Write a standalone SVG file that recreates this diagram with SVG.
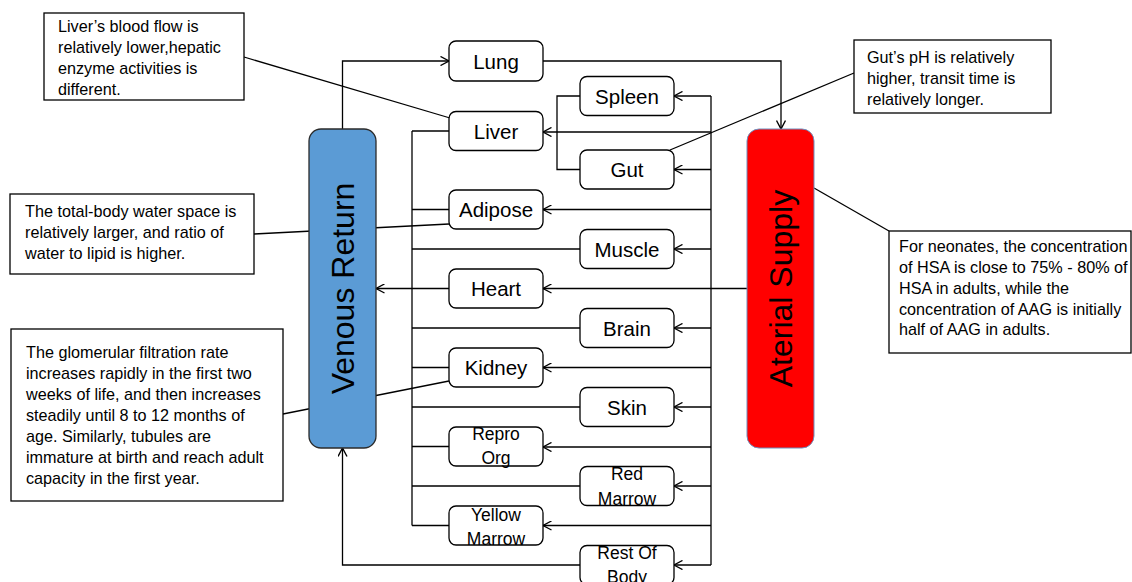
<svg xmlns="http://www.w3.org/2000/svg" width="1132" height="582" viewBox="0 0 1132 582">
<style>
.ln{fill:none;stroke:#000;stroke-width:1.3}
.ar{fill:none;stroke:#000;stroke-width:1.3;marker-end:url(#arr)}
.nd{fill:#fff;stroke:#000;stroke-width:1.3}
.co{fill:#fff;stroke:#000;stroke-width:1.3}
.t{font-family:"Liberation Sans",Arial,sans-serif;font-size:20.5px;fill:#000;text-anchor:middle}
.t2{font-family:"Liberation Sans",Arial,sans-serif;font-size:17.5px;fill:#000;text-anchor:middle}
.ct{font-family:"Liberation Sans",Arial,sans-serif;font-size:16.2px;fill:#000}
.vt{font-family:"Liberation Sans",Arial,sans-serif;font-size:32px;fill:#000;text-anchor:middle}
</style>
<defs>
<marker id="arr" viewBox="0 0 10 10" refX="9.5" refY="5" markerWidth="10" markerHeight="10" markerUnits="userSpaceOnUse" orient="auto">
<path d="M1,0.5 L9.5,5 L1,9.5" fill="none" stroke="#000" stroke-width="1.4"/>
</marker>
</defs>

<g id="callout-lines">
<line class="ln" x1="244" y1="57" x2="450" y2="118"/>
<line class="ln" x1="854" y1="73" x2="670" y2="150"/>
<line class="ln" x1="254" y1="234" x2="449" y2="224"/>
<line class="ln" x1="283" y1="414" x2="449" y2="381"/>
<line class="ln" x1="814" y1="188" x2="889" y2="231"/>
</g>

<g id="connectors">
<!-- venous to lung -->
<polyline class="ar" points="342.5,129 342.5,61 449,61"/>
<!-- lung to aterial -->
<polyline class="ar" points="543,61 781,61 781,129"/>
<!-- rest of body to venous -->
<polyline class="ar" points="580,565 342.5,565 342.5,448"/>
<!-- heart to venous -->
<line class="ar" x1="449" y1="288.5" x2="376" y2="288.5"/>
<!-- aterial to heart -->
<line class="ar" x1="747" y1="288.5" x2="543" y2="288.5"/>
<!-- left collector -->
<line class="ln" x1="412" y1="131" x2="412" y2="525.5"/>
<line class="ln" x1="412" y1="131" x2="449" y2="131"/>
<line class="ln" x1="412" y1="209.5" x2="449" y2="209.5"/>
<line class="ln" x1="412" y1="249" x2="580" y2="249"/>
<line class="ln" x1="412" y1="328" x2="580" y2="328"/>
<line class="ln" x1="412" y1="367.5" x2="449" y2="367.5"/>
<line class="ln" x1="412" y1="407" x2="580" y2="407"/>
<line class="ln" x1="412" y1="446.5" x2="449" y2="446.5"/>
<line class="ln" x1="412" y1="486" x2="580" y2="486"/>
<line class="ln" x1="412" y1="525.5" x2="449" y2="525.5"/>
<!-- spleen/gut bracket -->
<polyline class="ln" points="580,96 557,96 557,169.5 580,169.5"/>
<!-- right distributor -->
<line class="ln" x1="711" y1="96" x2="711" y2="565"/>
<line class="ar" x1="711" y1="96" x2="674" y2="96"/>
<line class="ar" x1="711" y1="132" x2="543" y2="132"/>
<line class="ar" x1="711" y1="169.5" x2="674" y2="169.5"/>
<line class="ar" x1="711" y1="209.5" x2="543" y2="209.5"/>
<line class="ar" x1="711" y1="249" x2="674" y2="249"/>
<line class="ar" x1="711" y1="328" x2="674" y2="328"/>
<line class="ar" x1="711" y1="367.5" x2="543" y2="367.5"/>
<line class="ar" x1="711" y1="407" x2="674" y2="407"/>
<line class="ar" x1="711" y1="447" x2="543" y2="447"/>
<line class="ar" x1="711" y1="486" x2="674" y2="486"/>
<line class="ar" x1="711" y1="525.5" x2="543" y2="525.5"/>
<line class="ar" x1="711" y1="565" x2="674" y2="565"/>
</g>

<g id="venous-return">
<rect x="309" y="129" width="67" height="319" rx="12" fill="#5b9bd5" stroke="#2b2b2b" stroke-width="1.3"/>
<text class="vt" transform="translate(342.5,288.5) rotate(-90)" x="0" y="11.5">Venous Return</text>
</g>
<g id="aterial-supply">
<rect x="747" y="129" width="67" height="319" rx="12" fill="#ff0000" stroke="#6f8fbf" stroke-width="1"/>
<text class="vt" transform="translate(780.5,288.5) rotate(-90)" x="0" y="11.5">Aterial Supply</text>
</g>

<g id="lung"><rect class="nd" x="449" y="41" width="94" height="40" rx="7"/><text class="t" x="496" y="68.5">Lung</text></g>
<g id="spleen"><rect class="nd" x="580" y="76.5" width="94" height="39" rx="7"/><text class="t" x="627" y="103.5">Spleen</text></g>
<g id="liver"><rect class="nd" x="449" y="111.5" width="94" height="39" rx="7"/><text class="t" x="496" y="138.5">Liver</text></g>
<g id="gut"><rect class="nd" x="580" y="150" width="94" height="39" rx="7"/><text class="t" x="627" y="177">Gut</text></g>
<g id="adipose"><rect class="nd" x="449" y="190" width="94" height="39" rx="7"/><text class="t" x="496" y="217">Adipose</text></g>
<g id="muscle"><rect class="nd" x="580" y="229.5" width="94" height="39" rx="7"/><text class="t" x="627" y="256.5">Muscle</text></g>
<g id="heart"><rect class="nd" x="449" y="269" width="94" height="39" rx="7"/><text class="t" x="496" y="296">Heart</text></g>
<g id="brain"><rect class="nd" x="580" y="308.5" width="94" height="39" rx="7"/><text class="t" x="627" y="335.5">Brain</text></g>
<g id="kidney"><rect class="nd" x="449" y="348" width="94" height="39" rx="7"/><text class="t" x="496" y="375">Kidney</text></g>
<g id="skin"><rect class="nd" x="580" y="387.5" width="94" height="39" rx="7"/><text class="t" x="627" y="414.5">Skin</text></g>
<g id="repro-org"><rect class="nd" x="449" y="427" width="94" height="39" rx="7"/><text class="t2" x="496" y="439.5">Repro</text><text class="t2" x="496" y="464">Org</text></g>
<g id="red-marrow"><rect class="nd" x="580" y="466.5" width="94" height="39" rx="7"/><text class="t2" x="627" y="480">Red</text><text class="t2" x="627" y="504.5">Marrow</text></g>
<g id="yellow-marrow"><rect class="nd" x="449" y="506" width="94" height="39" rx="7"/><text class="t2" x="496" y="520.5">Yellow</text><text class="t2" x="496" y="545">Marrow</text></g>
<g id="rest-of-body"><rect class="nd" x="580" y="545.5" width="94" height="39" rx="7"/><text class="t2" x="627" y="558.5">Rest Of</text><text class="t2" x="627" y="583">Body</text></g>

<g id="callout-liver">
<rect class="co" x="44" y="13" width="200" height="87"/>
<text class="ct" x="58" y="32">Liver’s blood flow is</text>
<text class="ct" x="58" y="53">relatively lower,hepatic</text>
<text class="ct" x="58" y="74">enzyme activities is</text>
<text class="ct" x="58" y="95">different.</text>
</g>
<g id="callout-gut">
<rect class="co" x="854" y="40" width="197" height="73"/>
<text class="ct" x="867" y="63">Gut’s pH is relatively</text>
<text class="ct" x="867" y="84">higher, transit time is</text>
<text class="ct" x="867" y="105">relatively longer.</text>
</g>
<g id="callout-adipose">
<rect class="co" x="10" y="194" width="244" height="80"/>
<text class="ct" x="25" y="217">The total-body water space is</text>
<text class="ct" x="25" y="238">relatively larger, and ratio of</text>
<text class="ct" x="25" y="259">water to lipid is higher.</text>
</g>
<g id="callout-kidney">
<rect class="co" x="11" y="329" width="272" height="172"/>
<text class="ct" x="26" y="357.5">The glomerular filtration rate</text>
<text class="ct" x="26" y="378.5">increases rapidly in the first two</text>
<text class="ct" x="26" y="399.5">weeks of life, and then increases</text>
<text class="ct" x="26" y="420.5">steadily until 8 to 12 months of</text>
<text class="ct" x="26" y="441.5">age. Similarly, tubules are</text>
<text class="ct" x="26" y="462.5">immature at birth and reach adult</text>
<text class="ct" x="26" y="483.5">capacity in the first year.</text>
</g>
<g id="callout-aterial">
<rect class="co" x="889" y="231" width="242" height="122"/>
<text class="ct" x="899" y="252">For neonates, the concentration</text>
<text class="ct" x="899" y="273">of HSA is close to 75% - 80% of</text>
<text class="ct" x="899" y="294">HSA in adults, while the</text>
<text class="ct" x="899" y="314.5">concentration of AAG is initially</text>
<text class="ct" x="899" y="335">half of AAG in adults.</text>
</g>
</svg>
